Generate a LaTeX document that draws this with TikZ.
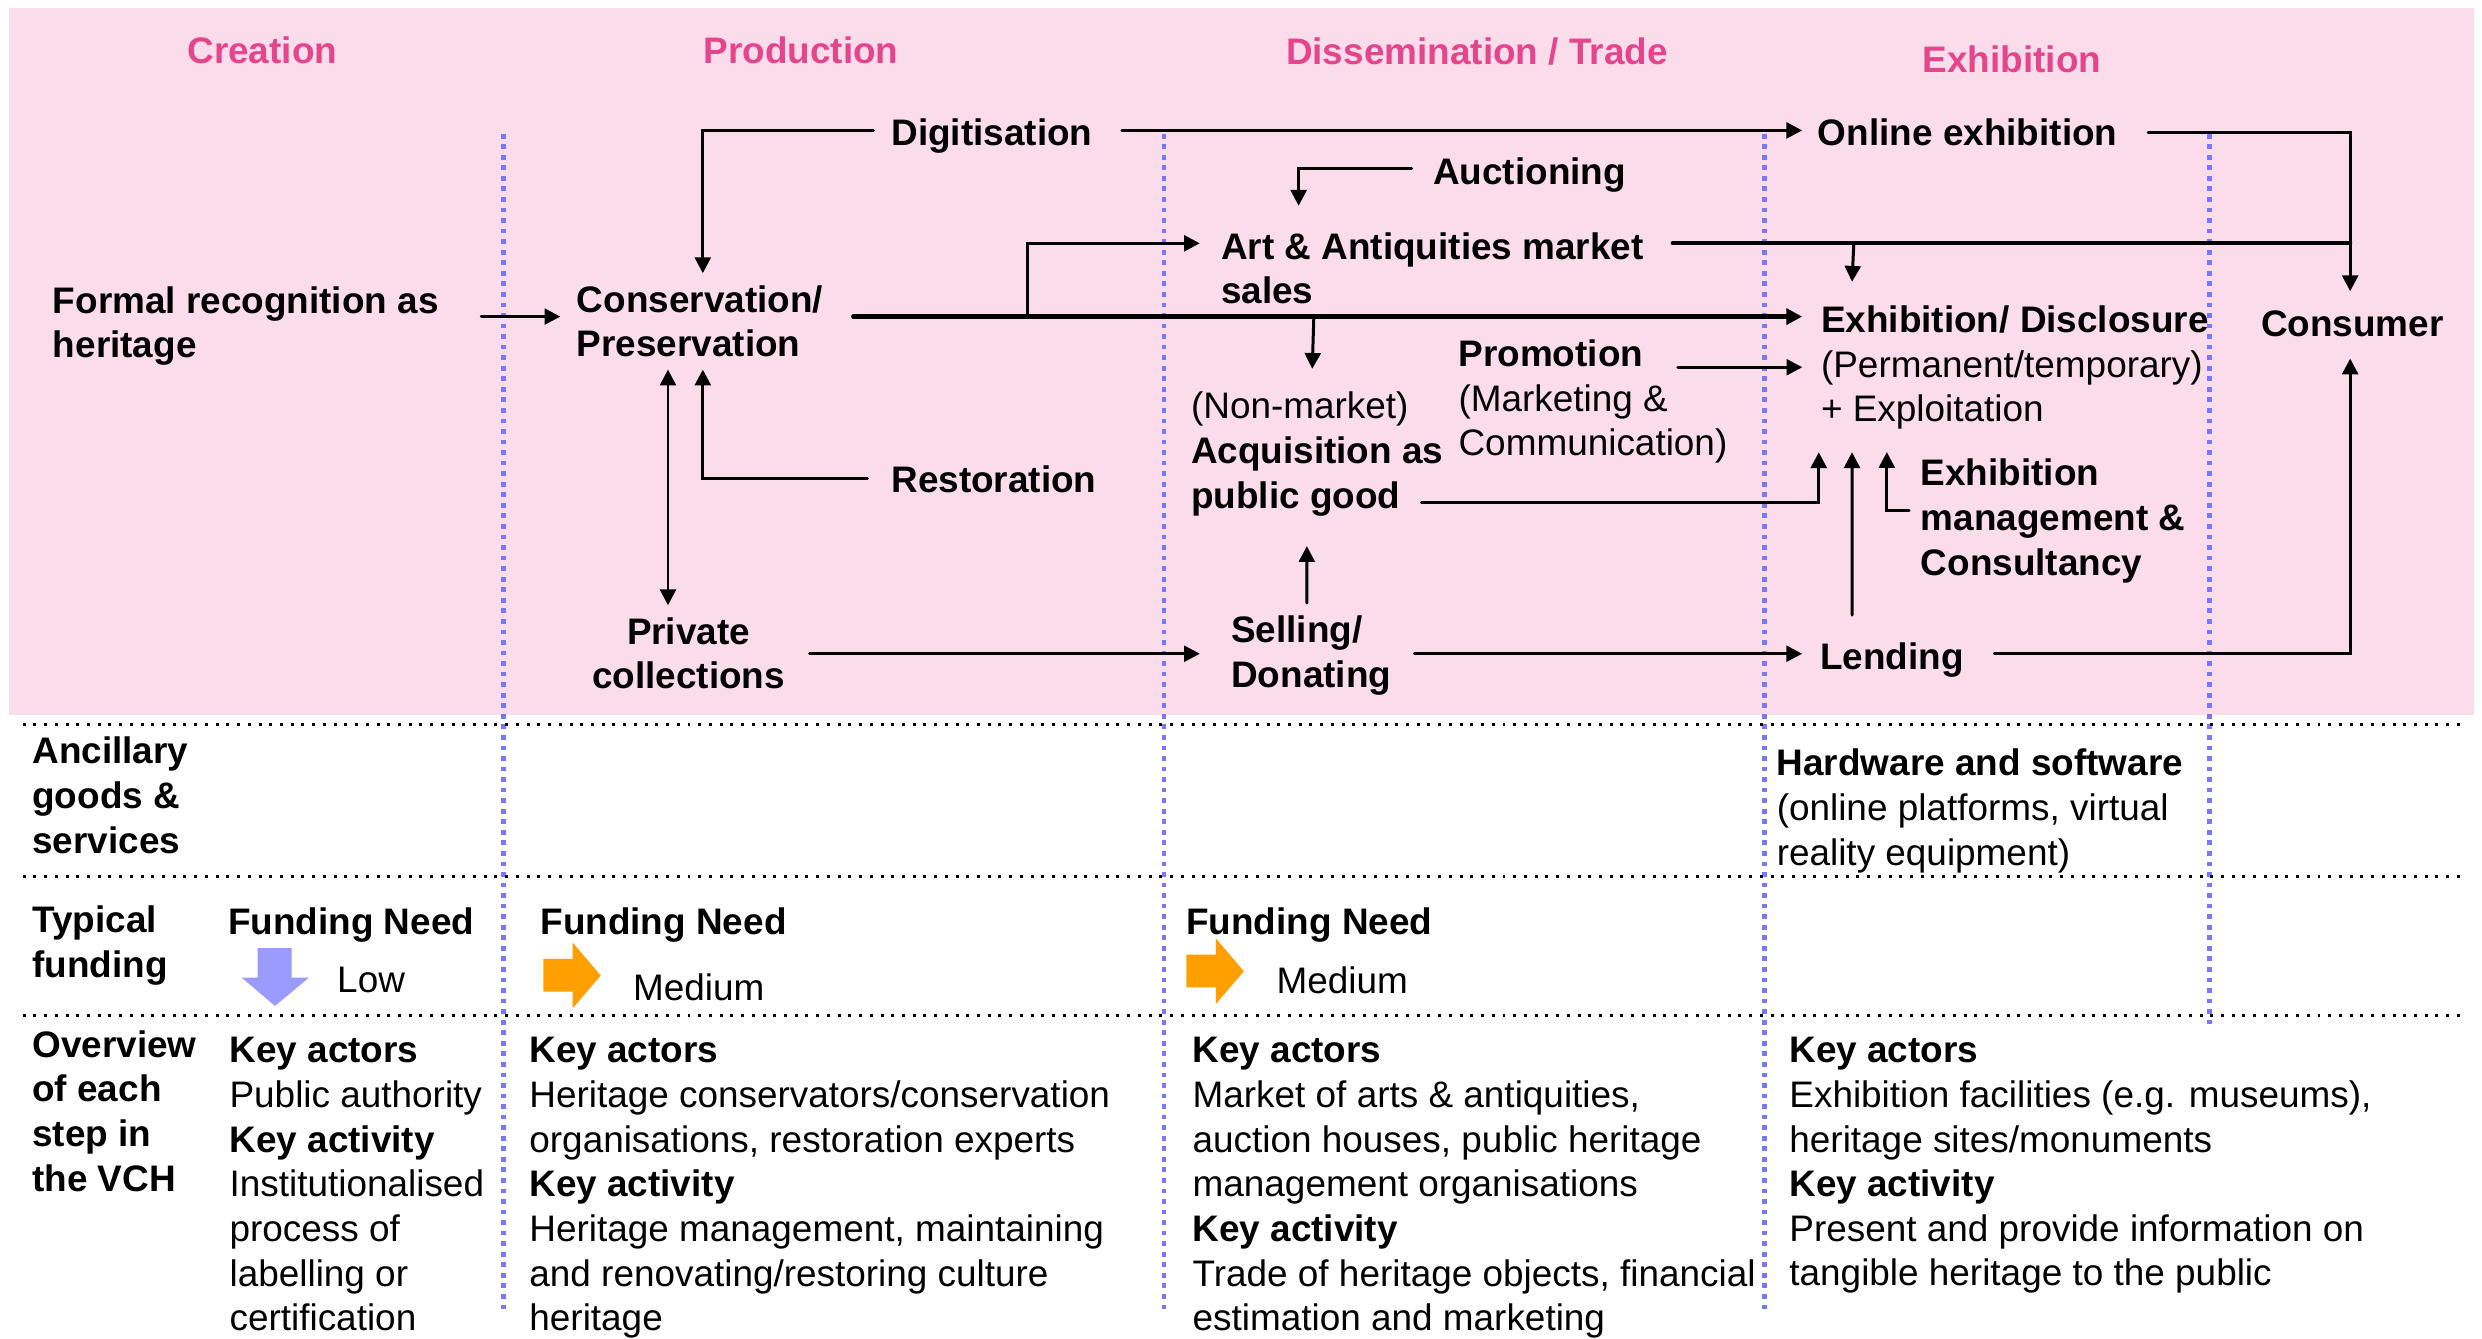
\documentclass[tikz,border=0pt]{standalone}
\usepackage{fontspec}
\setmainfont{Liberation Sans}
\usetikzlibrary{arrows.meta}
\definecolor{bgpink}{HTML}{FBDCEA}
\definecolor{stagepink}{HTML}{E5458C}
\definecolor{gridblue}{HTML}{7878FF}
\definecolor{lowblue}{HTML}{9B9BFF}
\definecolor{midorange}{HTML}{FFA000}
\newcommand\sz{\fontsize{10.5}{12.7}\selectfont}
\begin{document}
\begin{tikzpicture}[x=0.01583cm, y=-0.01583cm, font=\sz, line join=miter, line cap=round,
	>={Stealth[inset=0pt,length=4.5pt,width=4.5pt]},
	txt/.style={inner sep=0pt, anchor=west, align=left, font=\sz,
		execute at begin node=\strut, execute at end node=\strut},
	key/.style={txt, font=\sz\bfseries},
	stage/.style={inner sep=0pt, text=stagepink, font=\sz\bfseries},
	flow/.style={line width=0.85pt},
	mainflow/.style={line width=1.2pt},
	vsep/.style={gridblue, line width=1.35pt, line cap=butt, dash pattern=on 1.35pt off 1.65pt},
	hsep/.style={black, line width=0.85pt, line cap=butt, dash pattern=on 0.85pt off 2.2pt}]
	\useasboundingbox (0,0) rectangle (1568,845.7);
	\fill[bgpink] (6,5) rectangle (1563,452);
	% column and row separators
	\foreach \x in {318,735.3,1114.5} \draw[vsep] (\x,84.5) -- (\x,828);
	\draw[vsep] (1396,84.5) -- (1396,647);
	\foreach \y in {457.6,553.6,641.7} \draw[hsep] (14.3,\y) -- (1555,\y);
	% stages
	\node[stage] (creation) at (165.7,32) {Creation};
	\node[stage] (production) at (506,32) {Production};
	\node[stage] (trade) at (933,32.5) {Dissemination / Trade};
	\node[stage] (exhibition) at (1271,37.7) {Exhibition};
	% value chain
	\node[key] (formal) at (33,207.7) {Formal recognition as\\heritage};
	\node[key] (cons) at (364,207) {Conservation/\\Preservation};
	\node[key] (digi) at (562.7,86.5) {Digitisation};
	\node[key] (resto) at (562.7,305.5) {Restoration};
	\node[key, anchor=center, align=center] (priv) at (435,416.8) {Private\\collections};
	\node[key] (art) at (771,173.6) {Art \& Antiquities market\\sales};
	\node[key] (auction) at (905,111.2) {Auctioning};
	\node[txt] (acq) at (752,288.5) {(Non-market)\\\textbf{Acquisition as}\\\textbf{public good}};
	\node[txt] (promo) at (921,255.5) {\textbf{Promotion}\\(Marketing \&\\Communication)};
	\node[key] (sell) at (777.4,416) {Selling/\\Donating};
	\node[key] (online) at (1148,86.5) {Online exhibition};
	\node[txt] (exhib) at (1150,234) {\textbf{Exhibition/ Disclosure}\\(Permanent/temporary)\\+ Exploitation};
	\node[key] (mgmt) at (1213,330.9) {Exhibition\\management \&\\Consultancy};
	\node[key] (lend) at (1149.4,417.3) {Lending};
	\node[key] (consumer) at (1428,207) {Consumer};
	% connectors
	\draw[flow,->] ([shift={(26.5,-7.7)}]formal.east) -- ([shift={(-10,-7)}]cons.west);
	\draw[mainflow,->] ([shift={(18.6,-7)}]cons.east) -- ([shift={(-11.5,-34)}]exhib.west);
	\draw[flow,->] ([shift={(128.6,-7)}]cons.east) |- ([shift={(-13,-19.9)}]art.west);
	\draw[flow,->] ([shift={(-11,-4.1)}]digi.west) -| ([shift={(80,-34.4)}]cons.west);
	\draw[flow,->] ([shift={(18.2,-4.1)}]digi.east) -- ([shift={(-9.5,-4.1)}]online.west);
	\draw[flow,->] ([shift={(-14.7,-3.5)}]resto.west) -| ([shift={(80,26.5)}]cons.west);
	\draw[flow,<->] ([shift={(58,26.5)}]cons.west) -- ([shift={(-13,-7.2)}]priv.north);
	\draw[flow,->] ([shift={(15.1,-3.8)}]priv.east) -- ([shift={(-19.4,-3)}]sell.west);
	\draw[flow,->] ([shift={(-13.2,-4.5)}]auction.west) -| ([shift={(49.4,-43.6)}]art.west);
	\draw[flow,->] ([shift={(309.6,-7)}]cons.east) -- ([shift={(77,-55.5)}]acq.west);
	\draw[flow,->] ([shift={(48.2,-35)}]sell.west) -- ([shift={(73.6,56.5)}]acq.west);
	\draw[flow,->] ([shift={(14.2,-3)}]sell.east) -- ([shift={(-10.9,-4.3)}]lend.west);
	\draw[flow,->] ([shift={(139,-23.5)}]promo.west) -- ([shift={(-11.4,-2)}]exhib.west);
	\draw[flow,->] ([shift={(146,29.1)}]acq.west) -| ([shift={(-1,51.7)}]exhib.west);
	\draw[flow,->] ([shift={(20.6,-28.7)}]lend.west) -- ([shift={(20,51.7)}]exhib.west);
	\draw[flow,->] ([shift={(-7,-8.4)}]mgmt.west) -| ([shift={(42,51.6)}]exhib.west);
	\draw[mainflow] ([shift={(17.9,-19.9)}]art.east) -- ([shift={(56.7,-53.3)}]consumer.west);
	\draw[flow,->] ([shift={(132.3,-19.9)}]art.east) -- ([shift={(20,-56)}]exhib.west);
	\draw[flow,->] ([shift={(19,-3)}]online.east) -| ([shift={(56.7,-23)}]consumer.west);
	\draw[flow,->] ([shift={(19,-4.3)}]lend.east) -| ([shift={(56.7,19.5)}]consumer.west);
	% rows below
	\node[key] (anc) at (20,506.5) {Ancillary\\goods \&\\services};
	\node[txt] (hw) at (1122,514.2) {\textbf{Hardware and software}\\(online platforms, virtual\\reality equipment)};
	\node[key] (typ) at (20,599.1) {Typical\\funding};
	\node[key] (fund1) at (143.6,585) {Funding Need};
	\node[key] (fund2) at (341,585) {Funding Need};
	\node[key] (fund3) at (749,585) {Funding Need};
	\node[txt] (low) at (212.6,621.1) {Low};
	\node[txt] (med1) at (399.5,626.2) {Medium};
	\node[txt] (med2) at (806,622.3) {Medium};
	\fill[lowblue] (162.8,599) -- (184.3,599) -- (184.3,617.6) -- (195.2,617.6) -- (173.7,635.5)
		-- (152.7,617.6) -- (162.8,617.6) -- cycle;
	\foreach \dx/\dy in {0/0,406.3/-2.7}
		\fill[midorange, shift={(\dx,\dy)}] (343.2,605.8) -- (361.8,605.8) -- (361.8,595.5) -- (379.5,616.3)
			-- (361.8,637) -- (361.8,626.5) -- (343.2,626.5) -- cycle;
	\node[key] (over) at (20,706) {Overview\\of each\\step in\\the VCH};
	\node[txt] (step1) at (144.6,752.3) {\textbf{Key actors}\\Public authority\\\textbf{Key activity}\\Institutionalised\\process of\\labelling or\\certification};
	\node[txt] (step2) at (334,752.3) {\textbf{Key actors}\\Heritage conservators/conservation\\organisations, restoration experts\\\textbf{Key activity}\\Heritage management, maintaining\\and renovating/restoring culture\\heritage};
	\node[txt] (step3) at (753,752.3) {\textbf{Key actors}\\Market of arts \& antiquities,\\auction houses, public heritage\\management organisations\\\textbf{Key activity}\\Trade of heritage objects, financial\\estimation and marketing};
	\node[txt] (step4) at (1130,738.1) {\textbf{Key actors}\\Exhibition facilities (e.g. museums),\\heritage sites/monuments\\\textbf{Key activity}\\Present and provide information on\\tangible heritage to the public};
\end{tikzpicture}
\end{document}
